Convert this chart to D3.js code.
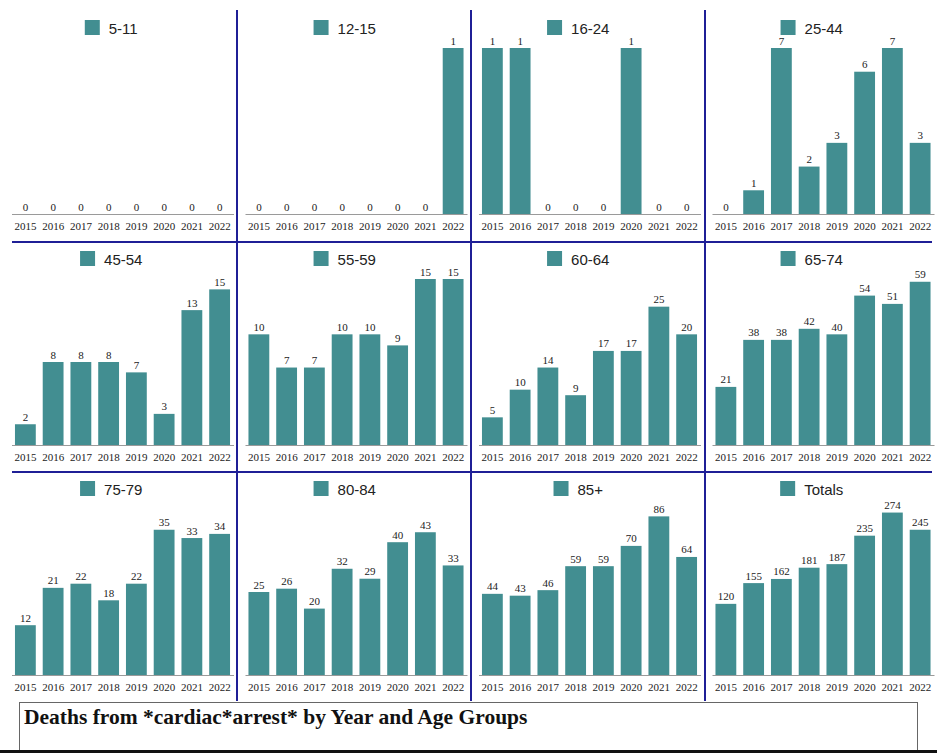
<!DOCTYPE html>
<html>
  <head>
    <meta charset="UTF-8">
    <script src="https://d3js.org/d3.v7.min.js"></script>
    <title>Deaths from cardiac arrest</title>
    <style>
      body { margin: 0; background: #fff; }
    </style>
  </head>
  <body>
    <svg id="chart" width="937" height="753"></svg>
    <script>
    var years = ["2015", "2016", "2017", "2018", "2019", "2020", "2021", "2022"];
    var groups = ["5-11", "12-15", "16-24", "25-44", "45-54", "55-59", "60-64", "65-74", "75-79", "80-84", "85+", "Totals"];

    var age5to11 = [0, 0, 0, 0, 0, 0, 0, 0];
    var age12to15 = [0, 0, 0, 0, 0, 0, 0, 1];
    var age16to24 = [1, 1, 0, 0, 0, 1, 0, 0];
    var age25to44 = [0, 1, 7, 2, 3, 6, 7, 3];
    var age45to54 = [2, 8, 8, 8, 7, 3, 13, 15];
    var age55to59 = [10, 7, 7, 10, 10, 9, 15, 15];
    var age60to64 = [5, 10, 14, 9, 17, 17, 25, 20];
    var age65to74 = [21, 38, 38, 42, 40, 54, 51, 59];
    var age75to79 = [12, 21, 22, 18, 22, 35, 33, 34];
    var age80to84 = [25, 26, 20, 32, 29, 40, 43, 33];
    var age85plus = [44, 43, 46, 59, 59, 70, 86, 64];
    var totals = [120, 155, 162, 181, 187, 235, 274, 245];

    // top of each panel's value axis (charts were auto scaled one by one)
    var axisMax = [1, 1, 1, 7, 16, 15, 30, 60, 40, 50, 90, 280];

    var series = [age5to11, age12to15, age16to24, age25to44, age45to54, age55to59,
                  age60to64, age65to74, age75to79, age80to84, age85plus, totals];

    var teal = "#428e91";
    var navy = "#1f1f96";
    var serif = "'Liberation Serif', 'Times New Roman', Times, serif";

    var svg = d3.select("#chart");
    var colLeft = [4.5, 238, 471.5, 705];
    var colW = 233.5;
    var rowTop = [0, 231, 461];

    series.forEach(function(vals, i) {
      var c = i % 4, r = Math.floor(i / 4);
      var x0 = colLeft[c], y0 = rowTop[r];
      var base = y0 + 214, top = y0 + 48;

      var x = d3.scaleBand()
        .domain(years)
        .range([x0 + 7, x0 + 229])
        .paddingInner(0.25)
        .paddingOuter(0.125);
      var y = d3.scaleLinear()
        .domain([0, axisMax[i]])
        .range([base, top]);

      var g = svg.append("g");

      g.selectAll(".bar")
        .data(vals)
        .enter().append("rect")
        .attr("x", function(d, j) { return x(years[j]); })
        .attr("y", function(d) { return y(d); })
        .attr("width", x.bandwidth())
        .attr("height", function(d) { return base - y(d); })
        .attr("fill", teal);

      g.selectAll(".val")
        .data(vals)
        .enter().append("text")
        .attr("x", function(d, j) { return x(years[j]) + x.bandwidth() / 2; })
        .attr("y", function(d) { return y(d) - 3.5; })
        .attr("text-anchor", "middle")
        .style("font-family", serif)
        .style("font-size", "11px")
        .attr("fill", "#222")
        .text(function(d) { return d; });

      var axis = g.append("g")
        .attr("transform", "translate(0," + base + ")")
        .call(d3.axisBottom(x).tickSize(0).tickPadding(8));
      axis.attr("font-family", null);
      axis.select(".domain").attr("stroke", "#9a9a9a").attr("stroke-width", 1.2);
      axis.selectAll("text")
        .style("font-family", serif)
        .style("font-size", "11px")
        .attr("fill", "#222");

      // legend
      var legend = g.append("g");
      var lt = legend.append("text")
        .attr("y", y0 + 34)
        .style("font-family", "'Liberation Sans', Arial, sans-serif")
        .style("font-size", "15px")
        .attr("fill", "#222")
        .text(groups[i]);
      var tw = lt.node().getComputedTextLength();
      var lx = x0 + colW / 2 - (15 + 9 + tw) / 2 - 10;
      legend.append("rect")
        .attr("x", lx).attr("y", y0 + 20)
        .attr("width", 15).attr("height", 15)
        .attr("fill", teal);
      lt.attr("x", lx + 24);
    });

    // panel dividers
    [237, 471, 705].forEach(function(vx) {
      svg.append("line")
        .attr("x1", vx).attr("x2", vx)
        .attr("y1", 10).attr("y2", 701)
        .attr("stroke", navy).attr("stroke-width", 2);
    });
    [242, 472].forEach(function(hy) {
      svg.append("line")
        .attr("x1", 12).attr("x2", 932)
        .attr("y1", hy).attr("y2", hy)
        .attr("stroke", navy).attr("stroke-width", 2);
    });

    // title box
    svg.append("rect")
      .attr("x", 19.5).attr("y", 702.5)
      .attr("width", 898).attr("height", 60)
      .attr("fill", "#fff")
      .attr("stroke", "#666").attr("stroke-width", 1);
    svg.append("text")
      .attr("x", 24).attr("y", 724)
      .style("font-family", serif)
      .style("font-size", "21.5px")
      .style("font-weight", "bold")
      .attr("fill", "#111")
      .text("Deaths from *cardiac*arrest* by Year and Age Groups");

    svg.append("rect")
      .attr("x", 0).attr("y", 750)
      .attr("width", 937).attr("height", 3)
      .attr("fill", "#111");
    </script>
  </body>
</html>
